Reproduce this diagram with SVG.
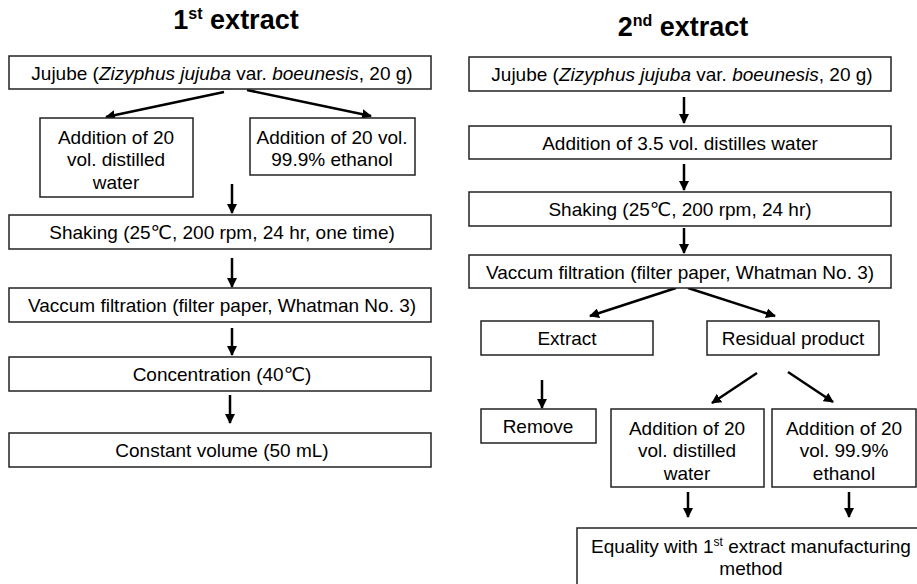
<svg xmlns="http://www.w3.org/2000/svg" width="917" height="584" viewBox="0 0 917 584">
<defs>
<marker id="ah" viewBox="0 0 10 10" refX="9" refY="5" markerWidth="4" markerHeight="4" orient="auto" markerUnits="strokeWidth">
<path d="M0,0 L10,5 L0,10 z" fill="#000"/>
</marker>
<style>
.box{fill:#fff;stroke:#222;stroke-width:1.5}
.t{font-family:"Liberation Sans",Arial,"DejaVu Sans","Noto Sans CJK SC",sans-serif;font-size:19px;fill:#000;text-anchor:middle}
.title{font-family:"Liberation Sans",Arial,sans-serif;font-size:27px;font-weight:bold;fill:#000;text-anchor:middle}
.c{stroke:#000;stroke-width:2.5;fill:none;marker-end:url(#ah)}
</style>
</defs>
<rect width="917" height="584" fill="#fff"/>
<text class="title" x="236" y="29">1<tspan font-size="16" dy="-10">st</tspan><tspan dy="10"> extract</tspan></text>
<text class="title" x="683" y="36">2<tspan font-size="16" dy="-10">nd</tspan><tspan dy="10"> extract</tspan></text>

<g id="connectors">
<line class="c" x1="224" y1="92" x2="106" y2="117"/>
<line class="c" x1="247" y1="90" x2="371" y2="116"/>
<line class="c" x1="232" y1="184" x2="232" y2="213"/>
<line class="c" x1="232" y1="258" x2="232" y2="287"/>
<line class="c" x1="232" y1="328" x2="232" y2="355"/>
<line class="c" x1="230" y1="395" x2="230" y2="423"/>
<line class="c" x1="684" y1="97" x2="684" y2="123"/>
<line class="c" x1="684" y1="164" x2="684" y2="190"/>
<line class="c" x1="684" y1="228" x2="684" y2="253"/>
<line class="c" x1="676" y1="288" x2="590" y2="316"/>
<line class="c" x1="688" y1="288" x2="775" y2="316"/>
<line class="c" x1="542" y1="380" x2="542" y2="408"/>
<line class="c" x1="757" y1="373" x2="712" y2="403"/>
<line class="c" x1="788" y1="372" x2="833" y2="402"/>
<line class="c" x1="688" y1="492" x2="688" y2="517"/>
<line class="c" x1="849" y1="492" x2="849" y2="517"/>
</g>

<g id="l_jujube"><rect class="box" x="9" y="56" width="422" height="33"/>
<text class="t" x="222" y="79.5">Jujube (<tspan font-style="italic">Zizyphus jujuba</tspan> var. <tspan font-style="italic">boeunesis</tspan>, 20 g)</text></g>
<g id="l_water"><rect class="box" x="40" y="118" width="153" height="79"/>
<text class="t" x="116" y="143.5">Addition of 20</text><text class="t" x="116" y="166">vol. distilled</text><text class="t" x="116" y="188.5">water</text></g>
<g id="l_ethanol"><rect class="box" x="250" y="118" width="165" height="57"/>
<text class="t" x="332" y="143.5">Addition of 20 vol.</text><text class="t" x="332" y="166">99.9% ethanol</text></g>
<g id="l_shaking"><rect class="box" x="9" y="215" width="422" height="34"/>
<text class="t" x="222" y="239">Shaking (25℃, 200 rpm, 24 hr, one time)</text></g>
<g id="l_vaccum"><rect class="box" x="9" y="288" width="422" height="34"/>
<text class="t" x="222" y="312">Vaccum filtration (filter paper, Whatman No. 3)</text></g>
<g id="l_conc"><rect class="box" x="9" y="357" width="422" height="34"/>
<text class="t" x="222" y="381">Concentration (40℃)</text></g>
<g id="l_const"><rect class="box" x="9" y="433" width="422" height="34"/>
<text class="t" x="222" y="457">Constant volume (50 mL)</text></g>

<g id="r_jujube"><rect class="box" x="469" y="57" width="422" height="34"/>
<text class="t" x="682" y="81">Jujube (<tspan font-style="italic">Zizyphus jujuba</tspan> var. <tspan font-style="italic">boeunesis</tspan>, 20 g)</text></g>
<g id="r_add"><rect class="box" x="469" y="126" width="422" height="33"/>
<text class="t" x="680" y="149.5">Addition of 3.5 vol. distilles water</text></g>
<g id="r_shaking"><rect class="box" x="469" y="192" width="422" height="34"/>
<text class="t" x="680" y="216">Shaking (25℃, 200 rpm, 24 hr)</text></g>
<g id="r_vaccum"><rect class="box" x="469" y="255" width="422" height="33"/>
<text class="t" x="680" y="278.5">Vaccum filtration (filter paper, Whatman No. 3)</text></g>
<g id="r_extract"><rect class="box" x="481" y="321" width="172" height="34"/>
<text class="t" x="567" y="345">Extract</text></g>
<g id="r_residual"><rect class="box" x="707" y="321" width="172" height="34"/>
<text class="t" x="793" y="345">Residual product</text></g>
<g id="r_remove"><rect class="box" x="481" y="409" width="115" height="34"/>
<text class="t" x="538" y="433">Remove</text></g>
<g id="r_water"><rect class="box" x="611" y="409" width="153" height="78"/>
<text class="t" x="687" y="434.5">Addition of 20</text><text class="t" x="687" y="457">vol. distilled</text><text class="t" x="687" y="479.5">water</text></g>
<g id="r_ethanol"><rect class="box" x="772" y="409" width="144" height="78"/>
<text class="t" x="844" y="434.5">Addition of 20</text><text class="t" x="844" y="457">vol. 99.9%</text><text class="t" x="844" y="479.5">ethanol</text></g>
<g id="r_equality"><rect class="box" x="577" y="528" width="360" height="70"/>
<text class="t" x="751" y="552.5">Equality with 1<tspan font-size="12" dy="-7">st</tspan><tspan dy="7"> extract manufacturing</tspan></text>
<text class="t" x="751" y="575">method</text></g>
</svg>
